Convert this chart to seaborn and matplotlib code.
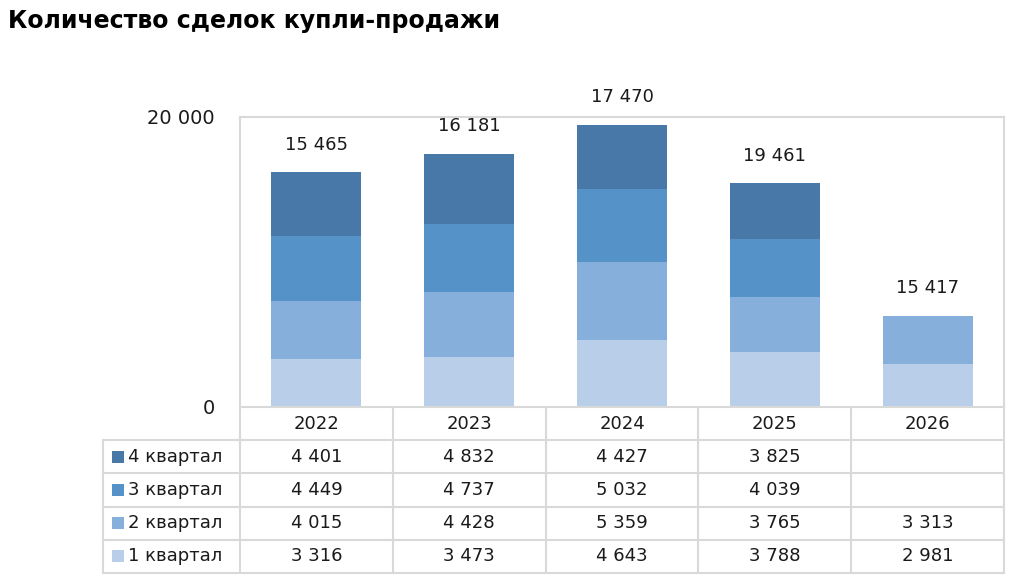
import numpy as np
import pandas as pd
import matplotlib
matplotlib.use("Agg")
import matplotlib.pyplot as plt
import seaborn as sns

# data
years = ["2022", "2023", "2024", "2025", "2026"]
q1 = [3316, 3473, 4643, 3788, 2981]
q2 = [4015, 4428, 5359, 3765, 3313]
q3 = [4449, 4737, 5032, 4039, np.nan]
q4 = [4401, 4832, 4427, 3825, np.nan]
# labels above the bars, as printed on the original
total_labels = ["15 465", "16 181", "17 470", "19 461", "15 417"]
series_names = ["1 квартал", "2 квартал", "3 квартал", "4 квартал"]
colors = ["#b9cfe9", "#86afdc", "#5592c8", "#4878a8"]

df = pd.DataFrame({"year": years, "q1": q1, "q2": q2, "q3": q3, "q4": q4})
cols = ["q1", "q2", "q3", "q4"]
cum = df[cols].fillna(0).cumsum(axis=1)
cum["year"] = df["year"]

sns.set_style("white")
plt.rcParams["font.family"] = ["DejaVu Sans"]
txt = "#1a1a1a"
grid = "#d9d9d9"

W, H = 1017, 588
fig = plt.figure(figsize=(W / 100, H / 100), dpi=100)

ax = fig.add_axes([240 / W, 1 - 407 / H, 764 / W, 290 / H])
# stacked bars: draw cumulative heights from the top series down
for i in reversed(range(4)):
    sns.barplot(data=cum, x="year", y=cols[i], color=colors[i], saturation=1,
                width=0.59, errorbar=None, linewidth=0, ax=ax)

ax.set_xlim(-0.5, 4.5)
ax.set_ylim(0, 20000)
ax.set_yticks([0, 20000])
ax.set_yticklabels(["0", "20 000"], fontsize=14, color=txt)
ax.set_xticks([])
ax.set_xlabel("")
ax.set_ylabel("")
ax.tick_params(axis="y", length=0, pad=18)
for s in ax.spines.values():
    s.set_color(grid)
    s.set_linewidth(1.5)

tops = cum["q4"].values
for i, lab in enumerate(total_labels):
    ax.annotate(lab, (i, tops[i]), xytext=(0, 20), textcoords="offset points",
                ha="center", va="center", fontsize=13, color=txt,
                annotation_clip=False)

# data table under the chart
leg_w = (240 - 103) / (764 / 5)
tax = fig.add_axes([103 / W, 1 - 573 / H, (1004 - 103) / W, (573 - 407) / H])
tax.set_xlim(-0.5 - leg_w, 4.5)
tax.set_ylim(5, 0)
tax.axis("off")
x0 = -0.5 - leg_w
lk = dict(color=grid, lw=1.5, clip_on=False)
for k in range(6):
    tax.plot([k - 0.5, k - 0.5], [0, 5], **lk)
tax.plot([x0, x0], [1, 5], **lk)
for r in range(1, 6):
    tax.plot([x0, 4.5], [r, r], **lk)

for j, y in enumerate(years):
    tax.text(j, 0.5, y, ha="center", va="center", fontsize=13, color=txt)

px = 1 / (764 / 5)
for r in range(4):
    si = 3 - r
    row = r + 1.5
    tax.scatter([x0 + 15 * px], [row], marker="s", s=70, color=colors[si],
                linewidths=0, clip_on=False)
    tax.text(x0 + 25 * px, row, series_names[si], ha="left", va="center",
             fontsize=13, color=txt)
    vals = df[cols[si]].values
    for j, v in enumerate(vals):
        if not np.isnan(v):
            tax.text(j, row, f"{v:,.0f}".replace(",", " "), ha="center",
                     va="center", fontsize=13, color=txt)

fig.text(8 / W, 1 - 21 / H, "Количество сделок купли-продажи", ha="left",
         va="center", fontsize=17, fontweight="bold", color="#000000")

fig.savefig("out.png", dpi=100)
